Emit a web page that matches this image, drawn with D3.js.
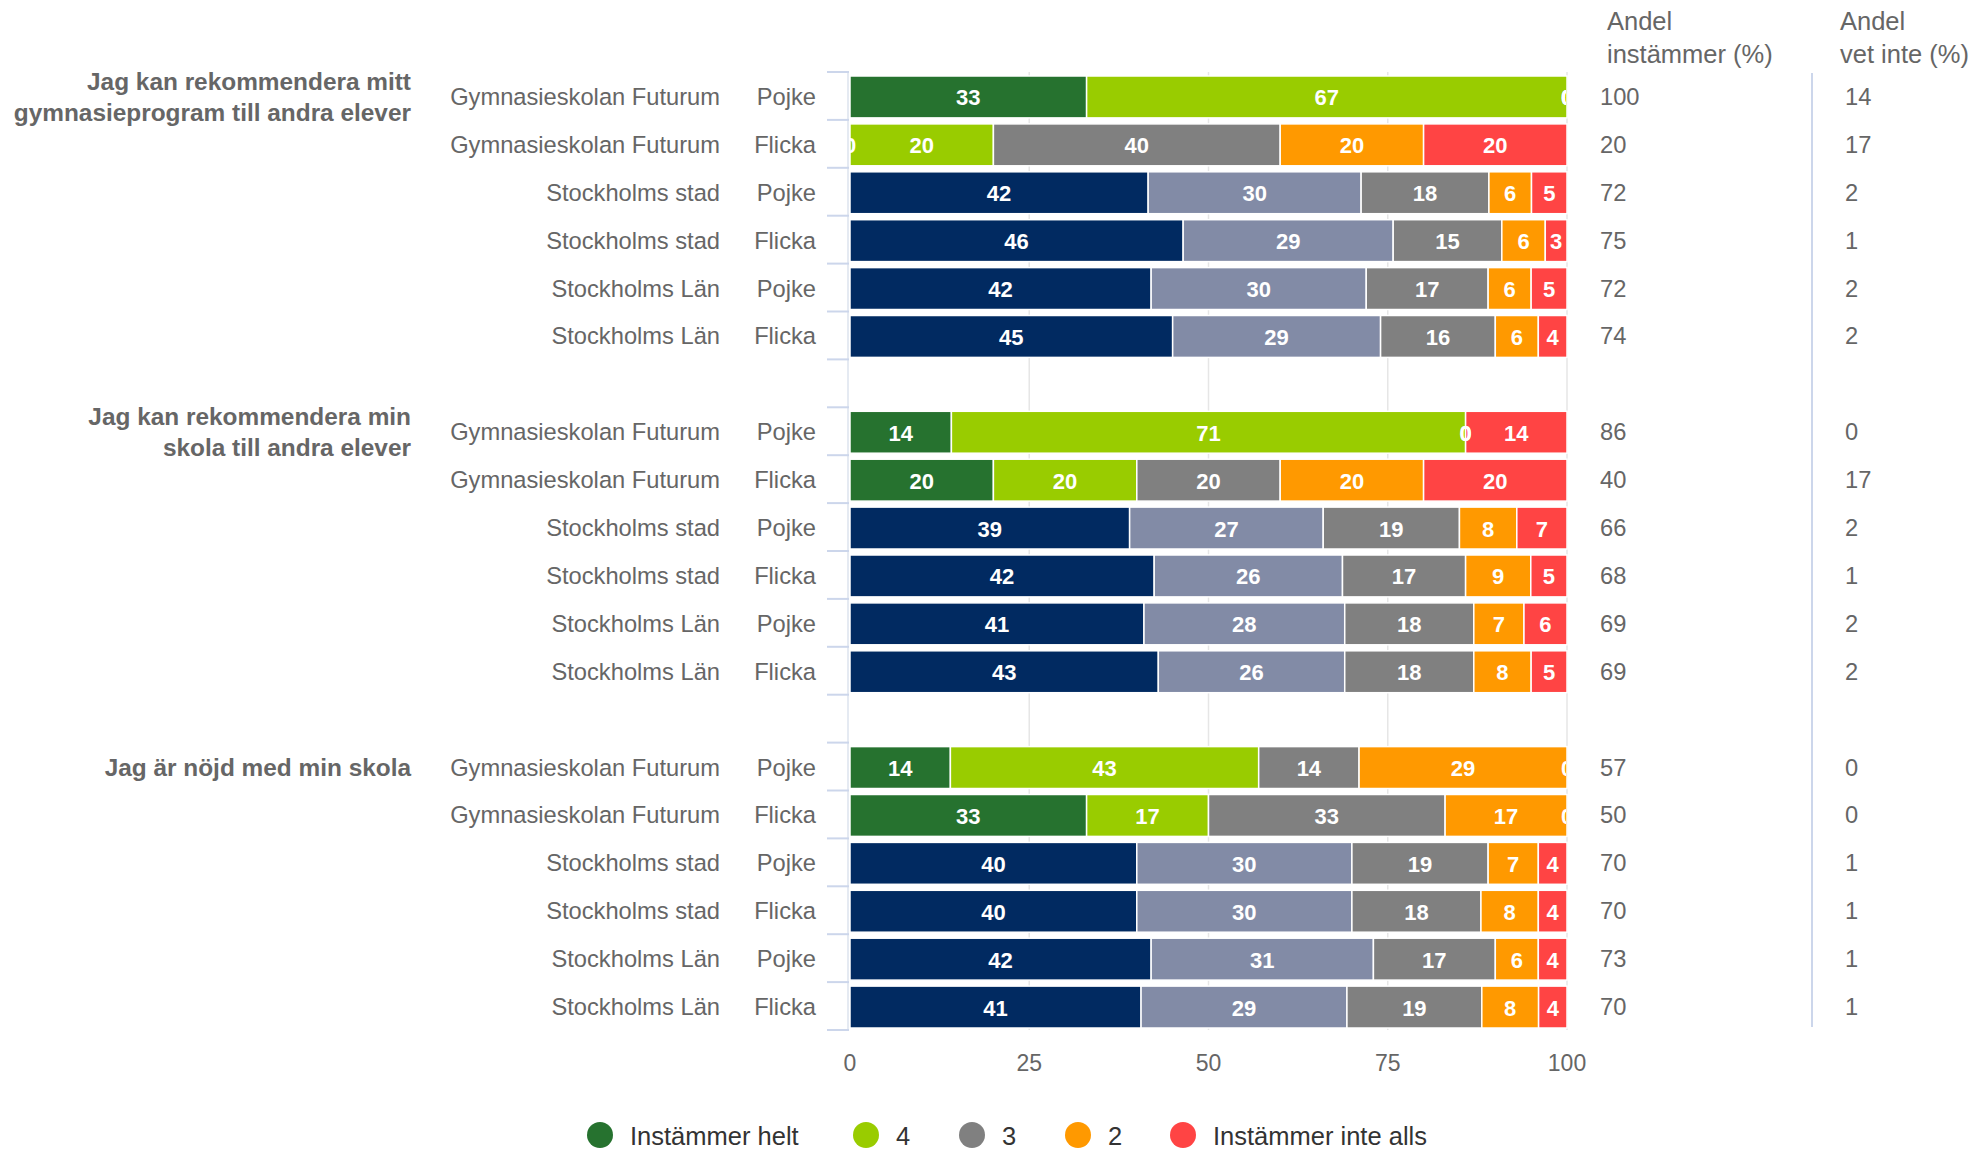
<!DOCTYPE html>
<html>
<head>
<meta charset="utf-8">
<script src="https://cdn.jsdelivr.net/npm/d3@7"></script>
<style>
  body { margin: 0; background: #fff; }
  svg { font-family: "Liberation Sans", Arial, Helvetica, sans-serif; }
</style>
</head>
<body>
<div id="chart"></div>
<script>
// questions (one group of six rows each)
const questions = [
  ["Jag kan rekommendera mitt", "gymnasieprogram till andra elever"],
  ["Jag kan rekommendera min", "skola till andra elever"],
  ["Jag är nöjd med min skola"]
];
const units = ["Gymnasieskolan Futurum", "Gymnasieskolan Futurum", "Stockholms stad", "Stockholms stad", "Stockholms Län", "Stockholms Län"];
const genders = ["Pojke", "Flicka", "Pojke", "Flicka", "Pojke", "Flicka"];

const seriesNames = ["Instämmer helt", "4", "3", "2", "Instämmer inte alls"];

// values per answer, 18 rows (3 questions x 6 rows)
const helt    = [33, 0, 42, 46, 42, 45,  14, 20, 39, 42, 41, 43,  14, 33, 40, 40, 42, 41];
const fyra    = [67, 20, 30, 29, 30, 29, 71, 20, 27, 26, 28, 26,  43, 17, 30, 30, 31, 29];
const tre     = [0, 40, 18, 15, 17, 16,  0, 20, 19, 17, 18, 18,   14, 33, 19, 18, 17, 19];
const tva     = [0, 20, 6, 6, 6, 6,      0, 20, 8, 9, 7, 8,       29, 17, 7, 8, 6, 8];
const inteAlls = [0, 20, 5, 3, 5, 4,     14, 20, 7, 5, 6, 5,      0, 0, 4, 4, 4, 4];

const andelInstammer = [100, 20, 72, 75, 72, 74,  86, 40, 66, 68, 69, 69,  57, 50, 70, 70, 73, 70];
const andelVetInte   = [14, 17, 2, 1, 2, 2,       0, 17, 2, 1, 2, 2,       0, 0, 1, 1, 1, 1];

const xTicks = [0, 25, 50, 75, 100];

const schoolColors = ["#26722f", "#99cc00", "#808080", "#ff9900", "#ff4444"];
const regionColors = ["#012a61", "#828ba6", "#808080", "#ff9900", "#ff4444"];

const width = 1987, height = 1149;
const keys = ["helt", "fyra", "tre", "tva", "inte"];
const rows = helt.map((d, i) => ({
  i: i,
  helt: helt[i], fyra: fyra[i], tre: tre[i], tva: tva[i], inte: inteAlls[i]
}));

const svg = d3.select("#chart").append("svg")
  .attr("width", width).attr("height", height);

const x = d3.scaleLinear().domain([0, 100]).range([850, 1567]);
const y = d3.scaleBand().domain(d3.range(20)).range([73, 1031]);
const cat = i => i + Math.floor(i / 6);

// grid lines
svg.append("g").selectAll("line").data(xTicks.slice(1)).join("line")
  .attr("x1", d => x(d)).attr("x2", d => x(d))
  .attr("y1", 72).attr("y2", 1030)
  .attr("stroke", "#e6e6e6").attr("stroke-width", 1.5);

// category axis line and ticks
svg.append("line")
  .attr("x1", 848).attr("x2", 848).attr("y1", 72).attr("y2", 1030)
  .attr("stroke", "#dde3ee").attr("stroke-width", 1.5);
svg.append("g").selectAll("line").data(d3.range(21)).join("line")
  .attr("x1", 827).attr("x2", 849)
  .attr("y1", d => 72 + d * y.step()).attr("y2", d => 72 + d * y.step())
  .attr("stroke", "#ccd6eb").attr("stroke-width", 2);

const stack = d3.stack().keys(keys).offset(d3.stackOffsetExpand)(rows);

const bh = y.bandwidth() - 6;
stack.forEach((layer, k) => {
  svg.append("g").selectAll("rect").data(layer).join("rect")
    .attr("x", d => x(d[0] * 100))
    .attr("width", d => x(d[1] * 100) - x(d[0] * 100))
    .attr("y", d => y(cat(d.data.i)) + 3)
    .attr("height", bh)
    .attr("fill", d => (d.data.i % 6 < 2 ? schoolColors : regionColors)[k])
    .attr("stroke", "#fff").attr("stroke-width", 1.5);
});

// data labels, clipped to the plot area
svg.append("clipPath").attr("id", "plot")
  .append("rect").attr("x", 850).attr("y", 60).attr("width", 716).attr("height", 980);
const labels = svg.append("g").attr("clip-path", "url(#plot)");
stack.forEach(layer => {
  labels.append("g").selectAll("text").data(layer).join("text")
    .attr("x", d => x((d[0] + d[1]) * 50))
    .attr("y", d => y(cat(d.data.i)) + y.bandwidth() / 2 + 1)
    .attr("text-anchor", "middle")
    .attr("dominant-baseline", "central")
    .attr("fill", "#fff")
    .attr("font-weight", "bold")
    .attr("font-size", "22px")
    .text(d => d.data[layer.key]);
});

// x axis labels
svg.append("g").selectAll("text").data(xTicks).join("text")
  .attr("x", d => x(d)).attr("y", 1063)
  .attr("text-anchor", "middle").attr("dominant-baseline", "central")
  .attr("fill", "#666").attr("font-size", "23px")
  .text(d => d);

// row labels
const rowLabels = svg.append("g").attr("fill", "#666").attr("font-size", "23.7px");
rows.forEach(r => {
  const cy = y(cat(r.i)) + y.bandwidth() / 2;
  rowLabels.append("text").attr("x", 720).attr("y", cy)
    .attr("text-anchor", "end").attr("dominant-baseline", "central")
    .text(units[r.i % 6]);
  rowLabels.append("text").attr("x", 816).attr("y", cy)
    .attr("text-anchor", "end").attr("dominant-baseline", "central")
    .text(genders[r.i % 6]);
  rowLabels.append("text").attr("x", 1600).attr("y", cy)
    .attr("dominant-baseline", "central")
    .text(andelInstammer[r.i]);
  rowLabels.append("text").attr("x", 1845).attr("y", cy)
    .attr("dominant-baseline", "central")
    .text(andelVetInte[r.i]);
});

// question titles
questions.forEach((lines, g) => {
  const cy = y(g * 7) + y.bandwidth() / 2;
  const t = svg.append("text")
    .attr("x", 411).attr("text-anchor", "end")
    .attr("fill", "#666").attr("font-weight", "bold").attr("font-size", "24.4px");
  lines.forEach((s, j) => {
    t.append("tspan").attr("x", 411)
      .attr("y", cy + (j - (lines.length - 1) / 2) * 31)
      .attr("dominant-baseline", "central")
      .text(s);
  });
});

// right column headers
const headers = [["Andel", "instämmer (%)", 1607], ["Andel", "vet inte (%)", 1840]];
headers.forEach(h => {
  const t = svg.append("text").attr("fill", "#666").attr("font-size", "25.5px");
  t.append("tspan").attr("x", h[2]).attr("y", 30).text(h[0]);
  t.append("tspan").attr("x", h[2]).attr("y", 63).text(h[1]);
});
svg.append("line")
  .attr("x1", 1812).attr("x2", 1812).attr("y1", 73).attr("y2", 1027)
  .attr("stroke", "#ccd6eb").attr("stroke-width", 2);

// legend
const legendX = [600, 866, 972, 1078, 1183];
const legend = svg.append("g");
seriesNames.forEach((name, k) => {
  legend.append("circle").attr("cx", legendX[k]).attr("cy", 1135).attr("r", 13)
    .attr("fill", schoolColors[k]);
  legend.append("text").attr("x", legendX[k] + 30).attr("y", 1136)
    .attr("dominant-baseline", "central")
    .attr("fill", "#333").attr("font-size", "25.5px")
    .text(name);
});
</script>
</body>
</html>
